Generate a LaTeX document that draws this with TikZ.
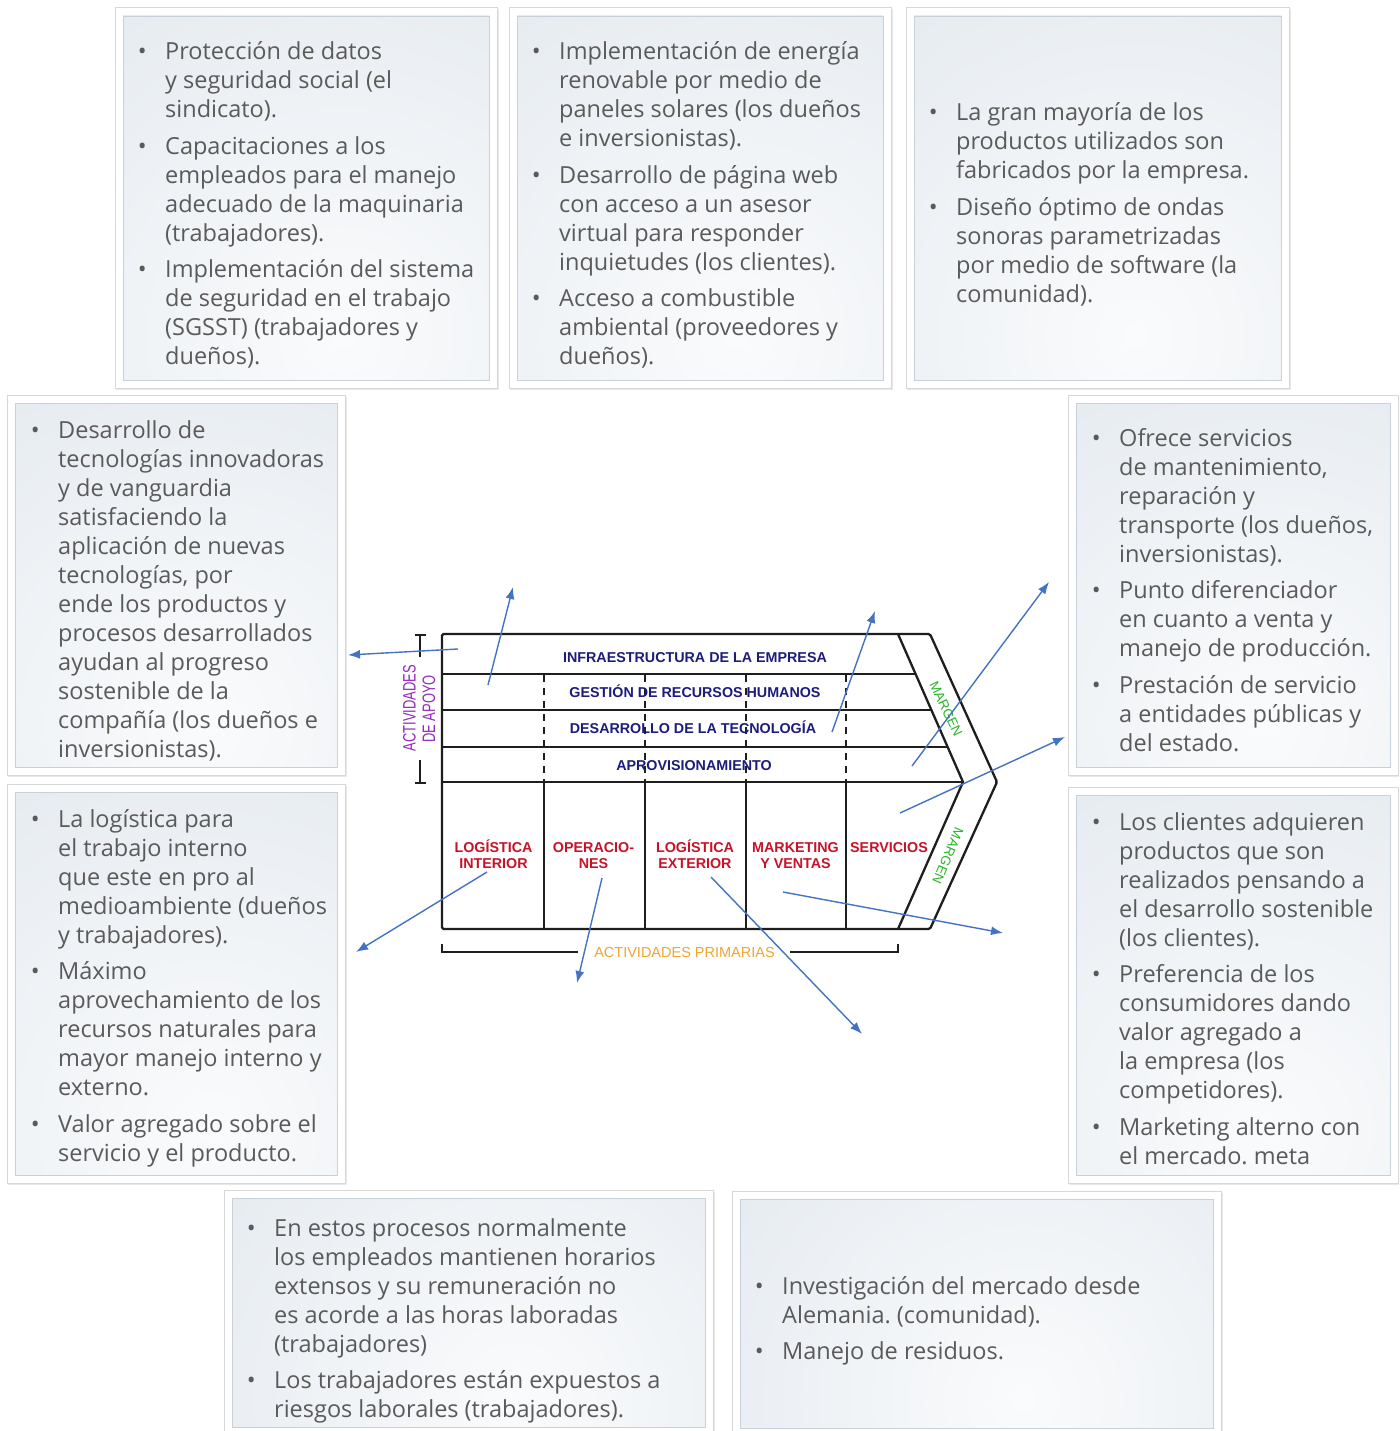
\documentclass[tikz,border=0pt]{standalone}
\usepackage{fontspec}
\setmainfont{Open Sans}
\newfontfamily\labfont{Liberation Sans}
\usetikzlibrary{arrows.meta}
\definecolor{txtgray}{RGB}{90,90,90}
\definecolor{boxblue}{RGB}{209,219,229}
\definecolor{shadein}{RGB}{250,251,252}
\definecolor{boxedge}{RGB}{200,209,218}
\definecolor{framegray}{RGB}{216,216,216}
\definecolor{arrblue}{RGB}{68,114,196}
\definecolor{navy}{RGB}{28,28,125}
\definecolor{vcred}{RGB}{200,18,40}
\definecolor{vcgreen}{RGB}{40,180,40}
\definecolor{vcpurple}{RGB}{150,40,190}
\definecolor{vcorange}{RGB}{240,165,50}
\definecolor{vcline}{RGB}{30,30,30}
\newcommand\bl{\llap{\textbullet\hspace{18.5pt}}}
\newcommand\panel[4]{%
  \fill[black!9] (#1+1,#2+1.5) rectangle (#3+1.5,#4+1.5);
  \filldraw[fill=white,draw=framegray,line width=1] (#1,#2) rectangle (#3,#4);
  \pgfmathsetmacro\pw{#3-#1-16}\pgfmathsetmacro\ph{#4-#2-16}%
  \pgfmathsetmacro\cx{#1+8+0.6*\pw}\pgfmathsetmacro\cy{#2+8+0.88*\ph}%
  \pgfmathsetmacro\rr{2.1*veclen(0.6*\pw,0.88*\ph)}%
  \begin{scope}
    \clip (#1+8,#2+8) rectangle (#3-8,#4-8);
    \shade[inner color=shadein, outer color=boxblue] (\cx,\cy) circle (\rr);
  \end{scope}
  \draw[boxedge,line width=0.7] (#1+8,#2+8) rectangle (#3-8,#4-8);
}
\tikzset{
  boxtext/.style={anchor=base west, inner sep=0pt, text=txtgray, font=\fontsize{23.5}{29}\selectfont\frenchspacing},
  suplab/.style={anchor=base, inner sep=0pt, text=navy, font=\labfont\bfseries\fontsize{14.3}{16}\selectfont},
  primlab/.style={anchor=base, inner sep=0pt, text=vcred, font=\labfont\bfseries\fontsize{14.3}{16}\selectfont},
  marglab/.style={inner sep=0pt, text=vcgreen, font=\labfont\fontsize{13.5}{14}\selectfont},
  vthick/.style={vcline, line width=2.3},
  vthin/.style={vcline, line width=1.4},
  arr/.style={draw=arrblue, line width=1.4, -{Latex[length=12pt,width=9pt]}}
}
\begin{document}
\begin{tikzpicture}[x=1pt,y=-1pt]
\clip (0,0) rectangle (1399,1431);
\fill[white] (0,0) rectangle (1399,1431);

% ---------- panels ----------
\panel{115}{8}{497}{388}
\panel{509}{8}{891}{388}
\panel{906}{8}{1289}{388}
\panel{7}{395}{345}{775}
\panel{7}{784}{345}{1183}
\panel{1068}{395}{1398}{775}
\panel{1068}{787}{1398}{1183}
\panel{224}{1190}{713}{1435}
\panel{732}{1191}{1221}{1436}

% ---------- panel texts ----------
\node[boxtext] (t1) at (165,60) {\begin{tabular}[t]{@{}l@{}}
\bl Protección de datos\\
y seguridad social (el\\
sindicato).\\[7.5pt]
\bl Capacitaciones a los\\
empleados para el manejo\\
adecuado de la maquinaria\\
(trabajadores).\\[7.5pt]
\bl Implementación del sistema\\
de seguridad en el trabajo\\
(SGSST) (trabajadores y\\
dueños).
\end{tabular}};

\node[boxtext] (t2) at (559,60) {\begin{tabular}[t]{@{}l@{}}
\bl Implementación de energía\\
renovable por medio de\\
paneles solares (los dueños\\
e inversionistas).\\[7.5pt]
\bl Desarrollo de página web\\
con acceso a un asesor\\
virtual para responder\\
inquietudes (los clientes).\\[7.5pt]
\bl Acceso a combustible\\
ambiental (proveedores y\\
dueños).
\end{tabular}};

\node[boxtext] (t3) at (956,121) {\begin{tabular}[t]{@{}l@{}}
\bl La gran mayoría de los\\
productos utilizados son\\
fabricados por la empresa.\\[7.5pt]
\bl Diseño óptimo de ondas\\
sonoras parametrizadas\\
por medio de software (la\\
comunidad).
\end{tabular}};

\node[boxtext] (l1) at (58,438) {\begin{tabular}[t]{@{}l@{}}
\bl Desarrollo de\\
tecnologías innovadoras\\
y de vanguardia\\
satisfaciendo la\\
aplicación de nuevas\\
tecnologías, por\\
ende los productos y\\
procesos desarrollados\\
ayudan al progreso\\
sostenible de la\\
compañía (los dueños e\\
inversionistas).
\end{tabular}};

\node[boxtext] (l2) at (58,827) {\begin{tabular}[t]{@{}l@{}}
\bl La logística para\\
el trabajo interno\\
que este en pro al\\
medioambiente (dueños\\
y trabajadores).\\[7.5pt]
\bl Máximo\\
aprovechamiento de los\\
recursos naturales para\\
mayor manejo interno y\\
externo.\\[7.5pt]
\bl Valor agregado sobre el\\
servicio y el producto.
\end{tabular}};

\node[boxtext] (r1) at (1119,446) {\begin{tabular}[t]{@{}l@{}}
\bl Ofrece servicios\\
de mantenimiento,\\
reparación y\\
transporte (los dueños,\\
inversionistas).\\[7.5pt]
\bl Punto diferenciador\\
en cuanto a venta y\\
manejo de producción.\\[7.5pt]
\bl Prestación de servicio\\
a entidades públicas y\\
del estado.
\end{tabular}};

\node[boxtext] (r2) at (1119,830) {\begin{tabular}[t]{@{}l@{}}
\bl Los clientes adquieren\\
productos que son\\
realizados pensando a\\
el desarrollo sostenible\\
(los clientes).\\[7.5pt]
\bl Preferencia de los\\
consumidores dando\\
valor agregado a\\
la empresa (los\\
competidores).\\[7.5pt]
\bl Marketing alterno con\\
el mercado. meta
\end{tabular}};

\node[boxtext] (b1) at (274,1236) {\begin{tabular}[t]{@{}l@{}}
\bl En estos procesos normalmente\\
los empleados mantienen horarios\\
extensos y su remuneración no\\
es acorde a las horas laboradas\\
(trabajadores)\\[7.5pt]
\bl Los trabajadores están expuestos a\\
riesgos laborales (trabajadores).
\end{tabular}};

\node[boxtext] (b2) at (782,1294) {\begin{tabular}[t]{@{}l@{}}
\bl Investigación del mercado desde\\
Alemania. (comunidad).\\[7.5pt]
\bl Manejo de residuos.
\end{tabular}};

% ---------- value chain ----------
\draw[vthick, rounded corners=1.5] (442,634) -- (930,634) -- (997,782) -- (930,929) -- (442,929) -- cycle;
\draw[vthick] (898,634) -- (963,782) -- (898,929);
\draw[vthick] (442,782) -- (963,782);
\foreach \yy/\xx in {674/915.6, 710/931.4, 747/947.6}
  \draw[vthin] (442,\yy) -- (\xx,\yy);
\foreach \xx in {544,645,746,846} {
  \draw[vthin] (\xx,782) -- (\xx,929);
  \draw[vthin, dash pattern=on 7pt off 6pt] (\xx,675) -- (\xx,782);
}
% brackets
\draw[vthin] (415,635) -- (426,635) (420,635) -- (420,657) (420,760) -- (420,783) (415,783) -- (426,783);
\draw[vthin] (442,944) -- (442,953) (442,952) -- (578,952) (790,952) -- (898,952) (898,944) -- (898,953);

% labels
\node[suplab] (s1) at (695,662) {INFRAESTRUCTURA DE LA EMPRESA};
\node[suplab] (s2) at (695,697) {GESTIÓN DE RECURSOS HUMANOS};
\node[suplab] (s3) at (693,733) {DESARROLLO DE LA TECNOLOGÍA};
\node[suplab] (s4) at (694,770) {APROVISIONAMIENTO};

\node[primlab] (p1) at (493.5,852) {\begin{tabular}[t]{@{}c@{}}LOGÍSTICA\\INTERIOR\end{tabular}};
\node[primlab] (p2) at (593.5,852) {\begin{tabular}[t]{@{}c@{}}OPERACIO-\\NES\end{tabular}};
\node[primlab] (p3) at (695,852) {\begin{tabular}[t]{@{}c@{}}LOGÍSTICA\\EXTERIOR\end{tabular}};
\node[primlab] (p4) at (795.5,852) {\begin{tabular}[t]{@{}c@{}}MARKETING\\Y VENTAS\end{tabular}};
\node[primlab] (p5) at (889,852) {SERVICIOS};

\node[marglab, rotate=-64.5] (m1) at (946,709) {MARGEN};
\node[marglab, rotate=-113] (m2) at (948,856) {MARGEN};

\node[inner sep=0pt, text=vcpurple, rotate=90, font=\labfont\fontsize{18}{18}\selectfont] (aa1) at (409.5,708) {\scalebox{0.72}[1]{ACTIVIDADES}};
\node[inner sep=0pt, text=vcpurple, rotate=90, font=\labfont\fontsize{18}{18}\selectfont] (aa2) at (429,709) {\scalebox{0.72}[1]{DE APOYO}};

\node[anchor=base, inner sep=0pt, text=vcorange, font=\labfont\fontsize{14.5}{16}\selectfont] (ap) at (684.5,957) {ACTIVIDADES PRIMARIAS};

% ---------- arrows ----------
\coordinate (a1s) at (458,649); \coordinate (a1e) at (348,655);
\coordinate (a2s) at (488,685); \coordinate (a2e) at (513,587);
\coordinate (a3s) at (832,732); \coordinate (a3e) at (875,611);
\coordinate (a4s) at (912,766); \coordinate (a4e) at (1049,582);
\coordinate (a5s) at (900,813); \coordinate (a5e) at (1065,737);
\coordinate (a6s) at (487,872); \coordinate (a6e) at (356,952);
\coordinate (a7s) at (602,878); \coordinate (a7e) at (577,983);
\coordinate (a8s) at (711,877); \coordinate (a8e) at (862,1034);
\coordinate (a9s) at (783,892); \coordinate (a9e) at (1003,933);
\foreach \i in {1,...,9} \draw[arr] (a\i s) -- (a\i e);
\end{tikzpicture}
\end{document}
